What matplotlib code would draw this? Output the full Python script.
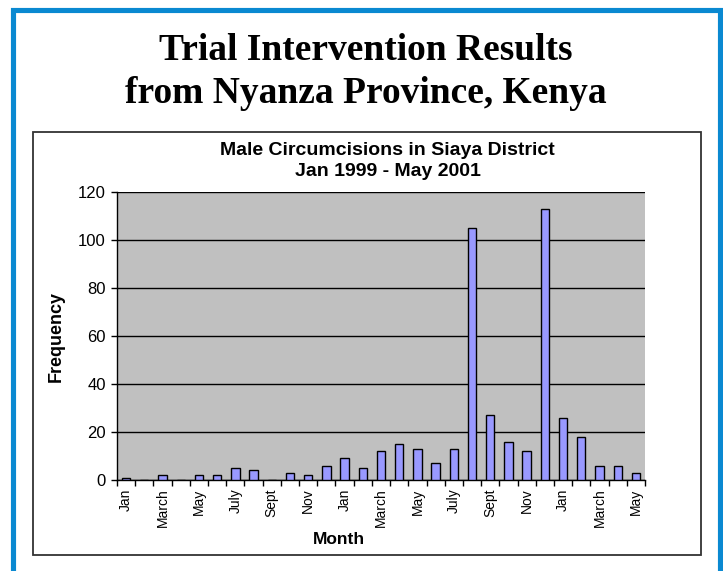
import matplotlib
matplotlib.use("Agg")
import matplotlib.pyplot as plt
from matplotlib.patches import Rectangle
import numpy as np

# monthly counts, Jan 1999 - May 2001
month_names = ["Jan", "Feb", "March", "April", "May", "June",
               "July", "Aug", "Sept", "Oct", "Nov", "Dec"]
months = [month_names[i % 12] for i in range(29)]
counts = [1, 0, 2, 0, 2, 2, 5, 4, 0, 3, 2, 6,
          9, 5, 12, 15, 13, 7, 13, 105, 27, 16, 12, 113,
          26, 18, 6, 6, 3]
yticks = [0, 20, 40, 60, 80, 100, 120]

W, H = 723, 571
fig = plt.figure(figsize=(W / 100, H / 100), dpi=100)
fig.patch.set_facecolor("white")

sans = "Liberation Sans"
serif = "Liberation Serif"

# blue slide frame
fig.patches.append(Rectangle((12.5 / W, 1 - 580 / H), (719.5 - 12.5) / W, (580 - 9.5) / H,
                             transform=fig.transFigure, fill=False,
                             edgecolor="#0a89d1", linewidth=3.7, zorder=0))
# chart box
fig.patches.append(Rectangle((33 / W, 1 - 555 / H), (701 - 33) / W, (555 - 132) / H,
                             transform=fig.transFigure, fill=False,
                             edgecolor="#333333", linewidth=1.3, zorder=0))

fig.text(366 / W, 1 - 60 / H, "Trial Intervention Results", ha="center", va="baseline",
         fontsize=27, fontweight="bold", family=serif)
fig.text(366 / W, 1 - 103 / H, "from Nyanza Province, Kenya", ha="center", va="baseline",
         fontsize=27, fontweight="bold", family=serif)

fig.text(387 / W, 1 - 155 / H, "Male Circumcisions in Siaya District", ha="center",
         va="baseline", fontsize=14, fontweight="bold", family=sans)
fig.text(388 / W, 1 - 176 / H, "Jan 1999 - May 2001", ha="center",
         va="baseline", fontsize=14, fontweight="bold", family=sans)

ax = fig.add_axes([117 / W, 1 - 480 / H, (645 - 117) / W, (480 - 192) / H])
ax.set_facecolor("#c0c0c0")

x = np.arange(len(counts))
ax.bar(x, counts, width=0.46, color="#9999ff", edgecolor="black", linewidth=1, zorder=3)

ax.set_xlim(-0.5, len(counts) - 0.5)
ax.set_ylim(0, 120)
ax.set_yticks(yticks)
ax.yaxis.grid(True, color="black", linewidth=1)
ax.set_axisbelow(True)

for s in ["top", "right"]:
    ax.spines[s].set_visible(False)
for s in ["left", "bottom"]:
    ax.spines[s].set_color("black")
    ax.spines[s].set_linewidth(1)

# tick marks between categories, labels every other month
ax.set_xticks(np.arange(-0.5, len(counts)))
ax.set_xticklabels([])
ax.set_xticks(x[::2], minor=True)
ax.set_xticklabels(months[::2], minor=True, rotation=90, fontsize=10, family=sans)
ax.tick_params(axis="x", which="major", direction="out", length=4, width=1)
ax.tick_params(axis="x", which="minor", length=0, pad=6)
ax.tick_params(axis="y", direction="out", length=4, width=1, pad=4, labelsize=12)
for lab in ax.get_yticklabels():
    lab.set_family(sans)

ax.set_ylabel("Frequency", fontsize=13, fontweight="bold", family=sans, va="center")
ax.yaxis.set_label_coords(-0.1155, 0.5)
ax.set_xlabel("Month", fontsize=12.5, fontweight="bold", family=sans, va="center")
ax.xaxis.set_label_coords(0.421, -0.205)

fig.savefig("out.png", dpi=100)
